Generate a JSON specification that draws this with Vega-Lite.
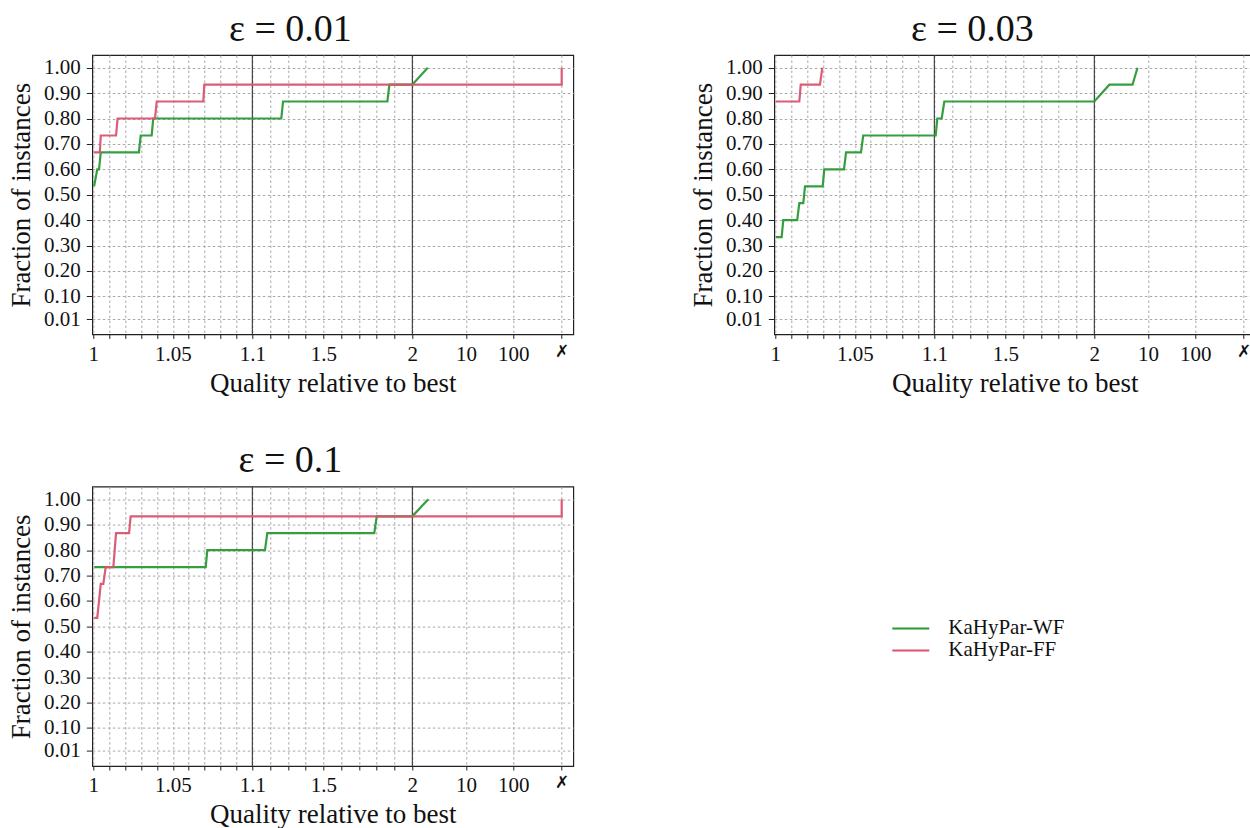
{
  "$schema": "https://vega.github.io/schema/vega-lite/v6.json",
  "padding": {"left": 6.3, "top": 9, "right": 0, "bottom": 0},
  "config": {
    "font": "Liberation Serif",
    "view": {"stroke": "#222", "strokeWidth": 1.2},
    "axis": {"domain": false, "gridColor": "#a8a8a8", "gridDash": [2.5, 2.5], "gridWidth": 1, "tickColor": "#222", "labelFontSize": 21, "labelColor": "#111", "titleFontSize": 27, "titleFontWeight": "normal", "titleColor": "#111", "labelFont": "Liberation Serif", "titleFont": "Liberation Serif", "labelOverlap": false},
    "axisX": {"labelOverlap": false, "labelFlush": false},
    "title": {"fontSize": 38, "fontWeight": "normal", "font": "Liberation Serif", "color": "#111", "frame": "bounds", "anchor": "middle", "offset": 6}
  },
  "datasets": {
    "rules": [{"x": 1.1}, {"x": 2}],
    "profiles": [
      {"eps": "0.01", "algo": "KaHyPar-WF", "i": 0, "x": 1.0005, "y": 0.533},
      {"eps": "0.01", "algo": "KaHyPar-WF", "i": 1, "x": 1.0025, "y": 0.6},
      {"eps": "0.01", "algo": "KaHyPar-WF", "i": 2, "x": 1.0036, "y": 0.6},
      {"eps": "0.01", "algo": "KaHyPar-WF", "i": 3, "x": 1.0047, "y": 0.667},
      {"eps": "0.01", "algo": "KaHyPar-WF", "i": 4, "x": 1.0287, "y": 0.667},
      {"eps": "0.01", "algo": "KaHyPar-WF", "i": 5, "x": 1.0298, "y": 0.733},
      {"eps": "0.01", "algo": "KaHyPar-WF", "i": 6, "x": 1.0367, "y": 0.733},
      {"eps": "0.01", "algo": "KaHyPar-WF", "i": 7, "x": 1.0377, "y": 0.8},
      {"eps": "0.01", "algo": "KaHyPar-WF", "i": 8, "x": 1.263, "y": 0.8},
      {"eps": "0.01", "algo": "KaHyPar-WF", "i": 9, "x": 1.273, "y": 0.867},
      {"eps": "0.01", "algo": "KaHyPar-WF", "i": 10, "x": 1.86, "y": 0.867},
      {"eps": "0.01", "algo": "KaHyPar-WF", "i": 11, "x": 1.871, "y": 0.933},
      {"eps": "0.01", "algo": "KaHyPar-WF", "i": 12, "x": 2, "y": 0.933},
      {"eps": "0.01", "algo": "KaHyPar-WF", "i": 13, "x": 4.3, "y": 1},
      {"eps": "0.03", "algo": "KaHyPar-WF", "i": 0, "x": 1.0004, "y": 0.333},
      {"eps": "0.03", "algo": "KaHyPar-WF", "i": 1, "x": 1.004, "y": 0.333},
      {"eps": "0.03", "algo": "KaHyPar-WF", "i": 2, "x": 1.005, "y": 0.4},
      {"eps": "0.03", "algo": "KaHyPar-WF", "i": 3, "x": 1.0138, "y": 0.4},
      {"eps": "0.03", "algo": "KaHyPar-WF", "i": 4, "x": 1.0151, "y": 0.467},
      {"eps": "0.03", "algo": "KaHyPar-WF", "i": 5, "x": 1.0176, "y": 0.467},
      {"eps": "0.03", "algo": "KaHyPar-WF", "i": 6, "x": 1.0187, "y": 0.533},
      {"eps": "0.03", "algo": "KaHyPar-WF", "i": 7, "x": 1.0298, "y": 0.533},
      {"eps": "0.03", "algo": "KaHyPar-WF", "i": 8, "x": 1.0308, "y": 0.6},
      {"eps": "0.03", "algo": "KaHyPar-WF", "i": 9, "x": 1.0432, "y": 0.6},
      {"eps": "0.03", "algo": "KaHyPar-WF", "i": 10, "x": 1.0445, "y": 0.667},
      {"eps": "0.03", "algo": "KaHyPar-WF", "i": 11, "x": 1.0539, "y": 0.667},
      {"eps": "0.03", "algo": "KaHyPar-WF", "i": 12, "x": 1.0553, "y": 0.733},
      {"eps": "0.03", "algo": "KaHyPar-WF", "i": 13, "x": 1.1079, "y": 0.733},
      {"eps": "0.03", "algo": "KaHyPar-WF", "i": 14, "x": 1.1169, "y": 0.8},
      {"eps": "0.03", "algo": "KaHyPar-WF", "i": 15, "x": 1.1416, "y": 0.8},
      {"eps": "0.03", "algo": "KaHyPar-WF", "i": 16, "x": 1.1563, "y": 0.867},
      {"eps": "0.03", "algo": "KaHyPar-WF", "i": 17, "x": 2, "y": 0.867},
      {"eps": "0.03", "algo": "KaHyPar-WF", "i": 18, "x": 4.25, "y": 0.933},
      {"eps": "0.03", "algo": "KaHyPar-WF", "i": 19, "x": 7.69, "y": 0.933},
      {"eps": "0.03", "algo": "KaHyPar-WF", "i": 20, "x": 8.44, "y": 1},
      {"eps": "0.1", "algo": "KaHyPar-WF", "i": 0, "x": 1.0006, "y": 0.733},
      {"eps": "0.1", "algo": "KaHyPar-WF", "i": 1, "x": 1.0707, "y": 0.733},
      {"eps": "0.1", "algo": "KaHyPar-WF", "i": 2, "x": 1.0717, "y": 0.8},
      {"eps": "0.1", "algo": "KaHyPar-WF", "i": 3, "x": 1.1714, "y": 0.8},
      {"eps": "0.1", "algo": "KaHyPar-WF", "i": 4, "x": 1.1844, "y": 0.867},
      {"eps": "0.1", "algo": "KaHyPar-WF", "i": 5, "x": 1.786, "y": 0.867},
      {"eps": "0.1", "algo": "KaHyPar-WF", "i": 6, "x": 1.8, "y": 0.933},
      {"eps": "0.1", "algo": "KaHyPar-WF", "i": 7, "x": 2, "y": 0.933},
      {"eps": "0.1", "algo": "KaHyPar-WF", "i": 8, "x": 4.38, "y": 1},
      {"eps": "0.01", "algo": "KaHyPar-FF", "i": 0, "x": 1.0004, "y": 0.667},
      {"eps": "0.01", "algo": "KaHyPar-FF", "i": 1, "x": 1.0041, "y": 0.667},
      {"eps": "0.01", "algo": "KaHyPar-FF", "i": 2, "x": 1.0047, "y": 0.733},
      {"eps": "0.01", "algo": "KaHyPar-FF", "i": 3, "x": 1.0143, "y": 0.733},
      {"eps": "0.01", "algo": "KaHyPar-FF", "i": 4, "x": 1.0153, "y": 0.8},
      {"eps": "0.01", "algo": "KaHyPar-FF", "i": 5, "x": 1.0388, "y": 0.8},
      {"eps": "0.01", "algo": "KaHyPar-FF", "i": 6, "x": 1.0399, "y": 0.867},
      {"eps": "0.01", "algo": "KaHyPar-FF", "i": 7, "x": 1.0692, "y": 0.867},
      {"eps": "0.01", "algo": "KaHyPar-FF", "i": 8, "x": 1.0698, "y": 0.933},
      {"eps": "0.01", "algo": "KaHyPar-FF", "i": 9, "x": 1000, "y": 0.933},
      {"eps": "0.01", "algo": "KaHyPar-FF", "i": 10, "x": 1000, "y": 1},
      {"eps": "0.03", "algo": "KaHyPar-FF", "i": 0, "x": 1.0004, "y": 0.867},
      {"eps": "0.03", "algo": "KaHyPar-FF", "i": 1, "x": 1.0151, "y": 0.867},
      {"eps": "0.03", "algo": "KaHyPar-FF", "i": 2, "x": 1.016, "y": 0.933},
      {"eps": "0.03", "algo": "KaHyPar-FF", "i": 3, "x": 1.0281, "y": 0.933},
      {"eps": "0.03", "algo": "KaHyPar-FF", "i": 4, "x": 1.0296, "y": 1},
      {"eps": "0.1", "algo": "KaHyPar-FF", "i": 0, "x": 1.0006, "y": 0.533},
      {"eps": "0.1", "algo": "KaHyPar-FF", "i": 1, "x": 1.0025, "y": 0.533},
      {"eps": "0.1", "algo": "KaHyPar-FF", "i": 2, "x": 1.0047, "y": 0.667},
      {"eps": "0.1", "algo": "KaHyPar-FF", "i": 3, "x": 1.0063, "y": 0.667},
      {"eps": "0.1", "algo": "KaHyPar-FF", "i": 4, "x": 1.0078, "y": 0.733},
      {"eps": "0.1", "algo": "KaHyPar-FF", "i": 5, "x": 1.0126, "y": 0.733},
      {"eps": "0.1", "algo": "KaHyPar-FF", "i": 6, "x": 1.0143, "y": 0.867},
      {"eps": "0.1", "algo": "KaHyPar-FF", "i": 7, "x": 1.0225, "y": 0.867},
      {"eps": "0.1", "algo": "KaHyPar-FF", "i": 8, "x": 1.0235, "y": 0.933},
      {"eps": "0.1", "algo": "KaHyPar-FF", "i": 9, "x": 1000, "y": 0.933},
      {"eps": "0.1", "algo": "KaHyPar-FF", "i": 10, "x": 1000, "y": 1}
    ]
  },
  "columns": 2,
  "bounds": "flush",
  "spacing": {"row": 151.6, "column": 201},
  "concat": [
    {
      "width": 481, "height": 279.4,
      "title": "ε = 0.01",
      "layer": [
        {"data": {"name": "rules"}, "mark": {"type": "rule", "color": "#222", "strokeWidth": 1},
         "encoding": {"x": {"field": "x", "type": "quantitative", "title": "Quality relative to best",
                 "scale": {"domain": [0.99937, 1, 1.1, 2, 10, 100, 1000, 1240], "range": [0, 1, 160, 320, 373.7, 421, 469.4, 481], "zero": false, "nice": false},
                 "axis": {"values": [1, 1.01, 1.02, 1.03, 1.04, 1.05, 1.06, 1.07, 1.08, 1.09, 1.1, 1.2, 1.3, 1.4, 1.5, 1.6, 1.7, 1.8, 1.9, 2, 10, 100, 1000],
                          "labelExpr": "datum.value == 1000 ? '✗' : (indexof([1, 1.05, 1.1, 1.5, 2, 10, 100], datum.value) >= 0 ? '' + datum.value : '')",
                          "labelOverlap": false, "labelFlush": false, "tickSize": 4, "labelPadding": 5, "titlePadding": 6,
                          "labelFont": {"condition": {"test": "datum.value == 1000", "value": "DejaVu Sans"}, "value": "Liberation Serif"},
                          "labelFontSize": {"condition": {"test": "datum.value == 1000", "value": 17}, "value": 21},
                          "labelFontWeight": {"condition": {"test": "datum.value == 1000", "value": "bold"}, "value": "normal"}}}}},
        {"data": {"name": "profiles"}, "transform": [{"filter": "datum.eps == '0.01'"}],
         "mark": {"type": "line", "strokeWidth": 2.2, "strokeOpacity": 0.95},
         "encoding": {
           "x": {"field": "x", "type": "quantitative", "title": "Quality relative to best",
                 "scale": {"domain": [0.99937, 1, 1.1, 2, 10, 100, 1000, 1240], "range": [0, 1, 160, 320, 373.7, 421, 469.4, 481], "zero": false, "nice": false},
                 "axis": {"values": [1, 1.01, 1.02, 1.03, 1.04, 1.05, 1.06, 1.07, 1.08, 1.09, 1.1, 1.2, 1.3, 1.4, 1.5, 1.6, 1.7, 1.8, 1.9, 2, 10, 100, 1000],
                          "labelExpr": "datum.value == 1000 ? '✗' : (indexof([1, 1.05, 1.1, 1.5, 2, 10, 100], datum.value) >= 0 ? '' + datum.value : '')",
                          "labelOverlap": false, "labelFlush": false, "tickSize": 4, "labelPadding": 5, "titlePadding": 6,
                          "labelFont": {"condition": {"test": "datum.value == 1000", "value": "DejaVu Sans"}, "value": "Liberation Serif"},
                          "labelFontSize": {"condition": {"test": "datum.value == 1000", "value": 17}, "value": 21},
                          "labelFontWeight": {"condition": {"test": "datum.value == 1000", "value": "bold"}, "value": "normal"}}},
           "y": {"field": "y", "type": "quantitative", "title": "Fraction of instances",
                 "scale": {"domain": [-0.05, 1.05], "zero": false, "nice": false},
                 "axis": {"values": [0.01, 0.1, 0.2, 0.3, 0.4, 0.5, 0.6, 0.7, 0.8, 0.9, 1.0], "format": ".2f", "tickSize": 6, "labelPadding": 6, "titlePadding": 8}},
           "color": {"field": "algo", "type": "nominal", "scale": {"domain": ["KaHyPar-WF", "KaHyPar-FF"], "range": ["#2a9a35", "#d9536f"]},
                     "legend": {"orient": "none", "legendX": 808, "legendY": 563, "title": null, "symbolType": "M-2,0H2", "symbolSize": 342, "symbolStrokeWidth": 2.2, "labelFontSize": 21, "labelOffset": 27, "rowPadding": 0, "labelFont": "Liberation Serif", "labelColor": "#111"}},
           "order": {"field": "i", "type": "quantitative"}
         }}
      ]
    },
    {
      "width": 481, "height": 279.4,
      "title": "ε = 0.03",
      "layer": [
        {"data": {"name": "rules"}, "mark": {"type": "rule", "color": "#222", "strokeWidth": 1},
         "encoding": {"x": {"field": "x", "type": "quantitative", "title": "Quality relative to best",
                 "scale": {"domain": [0.99937, 1, 1.1, 2, 10, 100, 1000, 1240], "range": [0, 1, 160, 320, 373.7, 421, 469.4, 481], "zero": false, "nice": false},
                 "axis": {"values": [1, 1.01, 1.02, 1.03, 1.04, 1.05, 1.06, 1.07, 1.08, 1.09, 1.1, 1.2, 1.3, 1.4, 1.5, 1.6, 1.7, 1.8, 1.9, 2, 10, 100, 1000],
                          "labelExpr": "datum.value == 1000 ? '✗' : (indexof([1, 1.05, 1.1, 1.5, 2, 10, 100], datum.value) >= 0 ? '' + datum.value : '')",
                          "labelOverlap": false, "labelFlush": false, "tickSize": 4, "labelPadding": 5, "titlePadding": 6,
                          "labelFont": {"condition": {"test": "datum.value == 1000", "value": "DejaVu Sans"}, "value": "Liberation Serif"},
                          "labelFontSize": {"condition": {"test": "datum.value == 1000", "value": 17}, "value": 21},
                          "labelFontWeight": {"condition": {"test": "datum.value == 1000", "value": "bold"}, "value": "normal"}}}}},
        {"data": {"name": "profiles"}, "transform": [{"filter": "datum.eps == '0.03'"}],
         "mark": {"type": "line", "strokeWidth": 2.2, "strokeOpacity": 0.95},
         "encoding": {
           "x": {"field": "x", "type": "quantitative", "title": "Quality relative to best",
                 "scale": {"domain": [0.99937, 1, 1.1, 2, 10, 100, 1000, 1240], "range": [0, 1, 160, 320, 373.7, 421, 469.4, 481], "zero": false, "nice": false},
                 "axis": {"values": [1, 1.01, 1.02, 1.03, 1.04, 1.05, 1.06, 1.07, 1.08, 1.09, 1.1, 1.2, 1.3, 1.4, 1.5, 1.6, 1.7, 1.8, 1.9, 2, 10, 100, 1000],
                          "labelExpr": "datum.value == 1000 ? '✗' : (indexof([1, 1.05, 1.1, 1.5, 2, 10, 100], datum.value) >= 0 ? '' + datum.value : '')",
                          "labelOverlap": false, "labelFlush": false, "tickSize": 4, "labelPadding": 5, "titlePadding": 6,
                          "labelFont": {"condition": {"test": "datum.value == 1000", "value": "DejaVu Sans"}, "value": "Liberation Serif"},
                          "labelFontSize": {"condition": {"test": "datum.value == 1000", "value": 17}, "value": 21},
                          "labelFontWeight": {"condition": {"test": "datum.value == 1000", "value": "bold"}, "value": "normal"}}},
           "y": {"field": "y", "type": "quantitative", "title": "Fraction of instances",
                 "scale": {"domain": [-0.05, 1.05], "zero": false, "nice": false},
                 "axis": {"values": [0.01, 0.1, 0.2, 0.3, 0.4, 0.5, 0.6, 0.7, 0.8, 0.9, 1.0], "format": ".2f", "tickSize": 6, "labelPadding": 6, "titlePadding": 8}},
           "color": {"field": "algo", "type": "nominal", "scale": {"domain": ["KaHyPar-WF", "KaHyPar-FF"], "range": ["#2a9a35", "#d9536f"]},
                     "legend": {"orient": "none", "legendX": 808, "legendY": 563, "title": null, "symbolType": "M-2,0H2", "symbolSize": 342, "symbolStrokeWidth": 2.2, "labelFontSize": 21, "labelOffset": 27, "rowPadding": 0, "labelFont": "Liberation Serif", "labelColor": "#111"}},
           "order": {"field": "i", "type": "quantitative"}
         }}
      ]
    },
    {
      "width": 481, "height": 279.4,
      "title": "ε = 0.1",
      "layer": [
        {"data": {"name": "rules"}, "mark": {"type": "rule", "color": "#222", "strokeWidth": 1},
         "encoding": {"x": {"field": "x", "type": "quantitative", "title": "Quality relative to best",
                 "scale": {"domain": [0.99937, 1, 1.1, 2, 10, 100, 1000, 1240], "range": [0, 1, 160, 320, 373.7, 421, 469.4, 481], "zero": false, "nice": false},
                 "axis": {"values": [1, 1.01, 1.02, 1.03, 1.04, 1.05, 1.06, 1.07, 1.08, 1.09, 1.1, 1.2, 1.3, 1.4, 1.5, 1.6, 1.7, 1.8, 1.9, 2, 10, 100, 1000],
                          "labelExpr": "datum.value == 1000 ? '✗' : (indexof([1, 1.05, 1.1, 1.5, 2, 10, 100], datum.value) >= 0 ? '' + datum.value : '')",
                          "labelOverlap": false, "labelFlush": false, "tickSize": 4, "labelPadding": 5, "titlePadding": 6,
                          "labelFont": {"condition": {"test": "datum.value == 1000", "value": "DejaVu Sans"}, "value": "Liberation Serif"},
                          "labelFontSize": {"condition": {"test": "datum.value == 1000", "value": 17}, "value": 21},
                          "labelFontWeight": {"condition": {"test": "datum.value == 1000", "value": "bold"}, "value": "normal"}}}}},
        {"data": {"name": "profiles"}, "transform": [{"filter": "datum.eps == '0.1'"}],
         "mark": {"type": "line", "strokeWidth": 2.2, "strokeOpacity": 0.95},
         "encoding": {
           "x": {"field": "x", "type": "quantitative", "title": "Quality relative to best",
                 "scale": {"domain": [0.99937, 1, 1.1, 2, 10, 100, 1000, 1240], "range": [0, 1, 160, 320, 373.7, 421, 469.4, 481], "zero": false, "nice": false},
                 "axis": {"values": [1, 1.01, 1.02, 1.03, 1.04, 1.05, 1.06, 1.07, 1.08, 1.09, 1.1, 1.2, 1.3, 1.4, 1.5, 1.6, 1.7, 1.8, 1.9, 2, 10, 100, 1000],
                          "labelExpr": "datum.value == 1000 ? '✗' : (indexof([1, 1.05, 1.1, 1.5, 2, 10, 100], datum.value) >= 0 ? '' + datum.value : '')",
                          "labelOverlap": false, "labelFlush": false, "tickSize": 4, "labelPadding": 5, "titlePadding": 6,
                          "labelFont": {"condition": {"test": "datum.value == 1000", "value": "DejaVu Sans"}, "value": "Liberation Serif"},
                          "labelFontSize": {"condition": {"test": "datum.value == 1000", "value": 17}, "value": 21},
                          "labelFontWeight": {"condition": {"test": "datum.value == 1000", "value": "bold"}, "value": "normal"}}},
           "y": {"field": "y", "type": "quantitative", "title": "Fraction of instances",
                 "scale": {"domain": [-0.05, 1.05], "zero": false, "nice": false},
                 "axis": {"values": [0.01, 0.1, 0.2, 0.3, 0.4, 0.5, 0.6, 0.7, 0.8, 0.9, 1.0], "format": ".2f", "tickSize": 6, "labelPadding": 6, "titlePadding": 8}},
           "color": {"field": "algo", "type": "nominal", "scale": {"domain": ["KaHyPar-WF", "KaHyPar-FF"], "range": ["#2a9a35", "#d9536f"]},
                     "legend": {"orient": "none", "legendX": 808, "legendY": 563, "title": null, "symbolType": "M-2,0H2", "symbolSize": 342, "symbolStrokeWidth": 2.2, "labelFontSize": 21, "labelOffset": 27, "rowPadding": 0, "labelFont": "Liberation Serif", "labelColor": "#111"}},
           "order": {"field": "i", "type": "quantitative"}
         }}
      ]
    }
  ]
}
